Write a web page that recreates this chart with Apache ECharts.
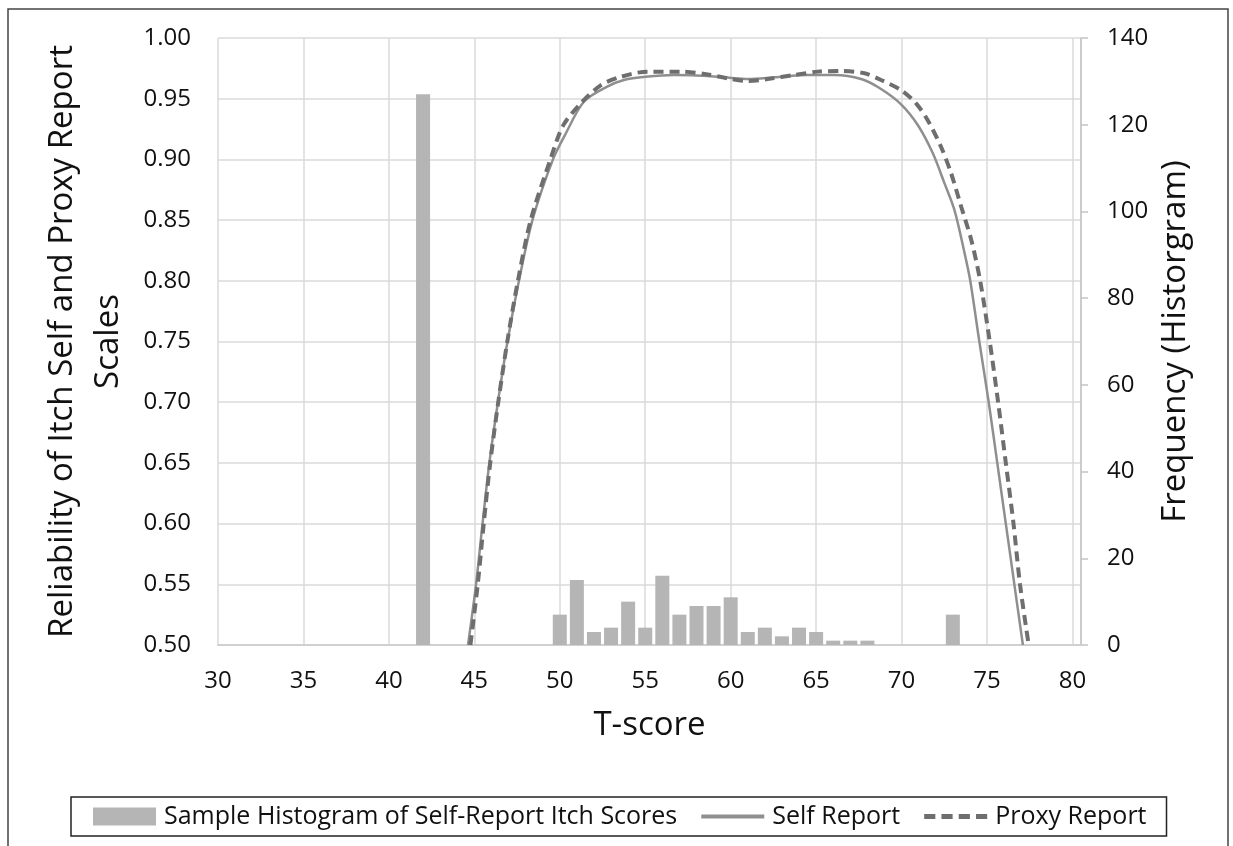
<!DOCTYPE html>
<html>
<head>
<meta charset="utf-8">
<script src="https://cdn.jsdelivr.net/npm/echarts@6/dist/echarts.min.js"></script>
<style>
  html, body { margin: 0; padding: 0; background: #fff; }
  #chart { width: 1233px; height: 846px; }
</style>
</head>
<body>
<div id="chart"></div>
<script>
// Reliability of itch self / proxy scales vs T-score, with sample histogram
// on the secondary (frequency) axis.

const histT = [42, 50, 51, 52, 53, 54, 55, 56, 57, 58, 59, 60, 61, 62, 63, 64, 65, 66, 67, 68, 73];
const histFreq = [127, 7, 15, 3, 4, 10, 4, 16, 7, 9, 9, 11, 3, 4, 2, 4, 3, 1, 1, 1, 7];

const selfT = [44.63, 45.1, 45.48, 45.88, 46.38, 46.94, 47.61, 48.4, 49.6, 50.3, 51.41, 52.78, 53.76, 55.03, 56.69, 58.65, 60.2, 61.0, 62.55, 64.5, 66.07, 67.63, 68.8, 70.0, 70.95, 71.83, 72.52, 73.1, 73.69, 74.02, 74.55, 75.1, 75.6, 76.1, 76.6, 77.1];
const selfRel = [0.50, 0.55, 0.60, 0.65, 0.70, 0.75, 0.80, 0.85, 0.90, 0.92, 0.9475, 0.960, 0.9654, 0.968, 0.9695, 0.9687, 0.9668, 0.9662, 0.9676, 0.9695, 0.9695, 0.9662, 0.958, 0.945, 0.9283, 0.905, 0.88, 0.858, 0.8226, 0.80, 0.75, 0.70, 0.65, 0.60, 0.55, 0.50];

const proxyT = [44.77, 45.2, 45.55, 45.93, 46.4, 46.93, 47.55, 48.3, 49.45, 50.2, 51.22, 52.39, 53.56, 55.13, 57.08, 58.65, 59.82, 61.0, 62.17, 63.73, 65.1, 66.46, 67.83, 68.8, 69.98, 70.86, 71.54, 72.32, 72.9, 73.49, 74.08, 74.6, 75.16, 75.65, 76.1, 76.55, 76.93, 77.44];
const proxyRel = [0.50, 0.55, 0.60, 0.65, 0.70, 0.75, 0.80, 0.85, 0.90, 0.928, 0.946, 0.961, 0.968, 0.9723, 0.9723, 0.970, 0.9668, 0.9646, 0.9662, 0.9695, 0.9723, 0.9728, 0.971, 0.9654, 0.957, 0.946, 0.932, 0.910, 0.8885, 0.861, 0.8336, 0.80, 0.75, 0.70, 0.65, 0.60, 0.55, 0.50];

const FONT = '"Open Sans", "Noto Sans", sans-serif';
const GRID_COLOR = '#dadada';
const SELF_COLOR = '#8f8f8f';
const PROXY_COLOR = '#6e6e6e';

// legend swatches: plain line and dashed line, drawn as paths (no symbol dot)
const ICON_SOLID = 'path://M0,0h63v4h-63z';
const ICON_DASHED = 'path://M0,0h11v5h-11z M17,0h11v5h-11z M34,0h11v5h-11z M51,0h11v5h-11z';

function zip(xs, ys) { return xs.map((x, i) => [x, ys[i]]); }

const chart = echarts.init(document.getElementById('chart'), null, { renderer: 'canvas' });

chart.setOption({
  backgroundColor: '#fff',
  animation: false,
  textStyle: { fontFamily: FONT, color: '#111' },
  graphic: [{
    type: 'rect',
    shape: { x: 8, y: 9, width: 1220, height: 860 },
    style: { fill: 'none', stroke: '#444', lineWidth: 1.5 },
    silent: true,
    z: -1,
  }],
  grid: { left: 218, right: 152, top: 38, bottom: 201 },
  legend: {
    left: 71,
    top: 797,
    padding: [7, 20, 7, 22],
    itemWidth: 63,
    itemHeight: 18,
    itemGap: 24,
    borderColor: '#222',
    borderWidth: 1.5,
    backgroundColor: '#fff',
    textStyle: { fontFamily: FONT, fontSize: 25, color: '#111', padding: [0, 0, 0, 3] },
    data: [
      { name: 'Sample Histogram of Self-Report Itch Scores', icon: 'rect' },
      { name: 'Self Report', icon: ICON_SOLID, itemStyle: { color: SELF_COLOR, borderWidth: 0 } },
      { name: 'Proxy Report', icon: ICON_DASHED, itemStyle: { color: PROXY_COLOR, borderWidth: 0 } },
    ],
  },
  xAxis: {
    type: 'value',
    min: 30,
    max: 80.5,
    interval: 5,
    name: 'T-score',
    nameLocation: 'middle',
    nameGap: 64,
    nameTextStyle: { fontFamily: FONT, fontSize: 33, color: '#111' },
    axisLine: { show: true, onZero: false, lineStyle: { color: '#d0d0d0', width: 2 } },
    axisTick: { show: false },
    axisLabel: {
      fontFamily: FONT, fontSize: 24, color: '#111', margin: 24,
      formatter: (v) => (Math.abs(v % 5) < 1e-6 ? String(v) : ''),
    },
    splitLine: { show: true, lineStyle: { color: GRID_COLOR, width: 1.5 } },
  },
  yAxis: [
    {
      type: 'value',
      min: 0.5,
      max: 1.0,
      interval: 0.05,
      name: 'Reliability of Itch Self and Proxy Report\nScales',
      nameLocation: 'middle',
      nameGap: 86,
      nameTextStyle: { fontFamily: FONT, fontSize: 33, color: '#111', lineHeight: 46 },
      axisLine: { show: false },
      axisTick: { show: false },
      axisLabel: {
        fontFamily: FONT, fontSize: 24, color: '#111', margin: 27,
        formatter: (v) => v.toFixed(2),
      },
      splitLine: { show: true, lineStyle: { color: GRID_COLOR, width: 1.5 } },
    },
    {
      type: 'value',
      position: 'right',
      min: 0,
      max: 140,
      interval: 20,
      name: 'Frequency (Historgram)',
      nameLocation: 'middle',
      nameRotate: 90,
      nameGap: 72,
      nameTextStyle: { fontFamily: FONT, fontSize: 33, color: '#111' },
      axisLine: { show: true, lineStyle: { color: '#c4c4c4', width: 1.5 } },
      axisTick: { show: true, inside: false, length: 7, lineStyle: { color: '#c4c4c4', width: 1.5 } },
      axisLabel: { fontFamily: FONT, fontSize: 24, color: '#111', margin: 26 },
      splitLine: { show: false },
    },
  ],
  series: [
    {
      name: 'Sample Histogram of Self-Report Itch Scores',
      type: 'bar',
      yAxisIndex: 1,
      barWidth: 14,
      itemStyle: { color: '#b5b5b5' },
      data: zip(histT, histFreq),
      z: 1,
    },
    {
      name: 'Self Report',
      type: 'line',
      yAxisIndex: 0,
      symbol: 'none',
      smooth: 0.3,
      color: SELF_COLOR,
      lineStyle: { color: SELF_COLOR, width: 2.5 },
      data: zip(selfT, selfRel),
      z: 3,
    },
    {
      name: 'Proxy Report',
      type: 'line',
      yAxisIndex: 0,
      symbol: 'none',
      smooth: 0.3,
      color: PROXY_COLOR,
      lineStyle: { color: PROXY_COLOR, width: 4, type: [10, 6] },
      data: zip(proxyT, proxyRel),
      z: 4,
    },
  ],
});
</script>
</body>
</html>
